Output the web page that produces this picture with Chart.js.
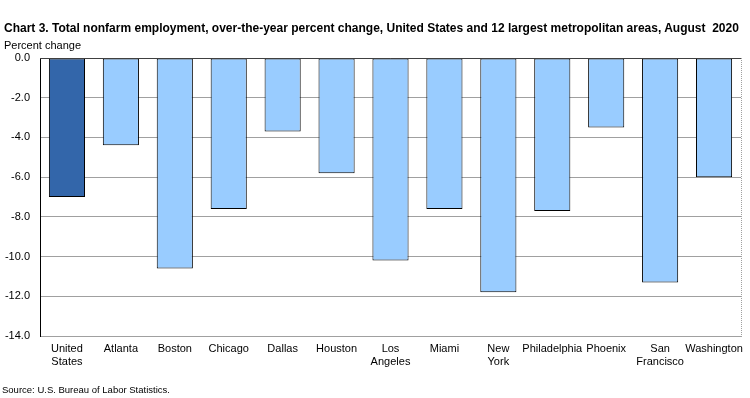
<!DOCTYPE html>
<html><head><meta charset="utf-8">
<script src="https://cdn.jsdelivr.net/npm/chart.js@4"></script>
<style>
html,body{margin:0;padding:0;background:#fff;}
#wrap{position:relative;width:750px;height:398px;font-family:"Liberation Sans",Arial,sans-serif;color:#000;}
#title{position:absolute;left:4px;top:21px;font-size:12px;font-weight:bold;white-space:nowrap;}
#ylab{position:absolute;left:4px;top:39px;font-size:11px;white-space:nowrap;}
#src{position:absolute;left:2px;top:384px;font-size:9.5px;white-space:nowrap;}
canvas{position:absolute;left:0;top:0;}
</style></head>
<body><div id="wrap">
<canvas id="c" width="750" height="398"></canvas>
<div id="title">Chart 3. Total nonfarm employment, over-the-year percent change, United States and 12 largest metropolitan areas, August&nbsp; 2020</div>
<div id="ylab">Percent change</div>
<div id="src">Source: U.S. Bureau of Labor Statistics.</div>
</div>
<script>
const categories = [["United","States"],"Atlanta","Boston","Chicago","Dallas","Houston",["Los","Angeles"],"Miami",["New","York"],"Philadelphia","Phoenix",["San","Francisco"],"Washington"];
const values = [-7.0,-4.4,-10.6,-7.6,-3.7,-5.8,-10.2,-7.6,-11.8,-7.7,-3.5,-11.3,-6.0];
const barColors = ["#3366aa","#99ccff","#99ccff","#99ccff","#99ccff","#99ccff","#99ccff","#99ccff","#99ccff","#99ccff","#99ccff","#99ccff","#99ccff"];
const yMin = -14, yMax = 0, yStep = 2;

const frame = {
  id:'frame',
  afterDraw(chart){
    const {ctx, chartArea:a} = chart;
    ctx.save();
    ctx.lineWidth = 1;
    ctx.strokeStyle = '#a0a0a0';
    ctx.setLineDash([1,1]);
    ctx.beginPath();
    ctx.moveTo(a.right+0.5, a.top); ctx.lineTo(a.right+0.5, a.bottom);
    ctx.stroke();
    ctx.setLineDash([]);
    ctx.strokeStyle = '#404040';
    ctx.beginPath();
    ctx.moveTo(a.left, a.top+0.5); ctx.lineTo(a.right, a.top+0.5);
    ctx.stroke();
    ctx.restore();
  }
};

new Chart(document.getElementById('c'), {
  type:'bar',
  data:{labels:categories, datasets:[{data:values, backgroundColor:barColors, borderColor:'#000', borderWidth:1, borderSkipped:false, categoryPercentage:1, barPercentage:0.67}]},
  options:{
    responsive:false, animation:false,
    layout:{padding:{top:58,right:9,left:0,bottom:0}},
    plugins:{legend:{display:false}, tooltip:{enabled:false}, title:{display:false}},
    scales:{
      x:{
        grid:{display:false, drawTicks:false},
        border:{display:true, color:'#a0a0a0', dash:[1,1]},
        ticks:{color:'#000', font:{family:'"Liberation Sans", Arial, sans-serif', size:11}, maxRotation:0, autoSkip:false, padding:6},
        afterFit(s){ s.height = 62; }
      },
      y:{
        min:yMin, max:yMax,
        ticks:{stepSize:yStep, color:'#000', font:{family:'"Liberation Sans", Arial, sans-serif', size:11}, padding:10, callback:v=>v.toFixed(1)},
        grid:{color:'#a0a0a0', drawTicks:false},
        border:{display:true, color:'#000'},
        afterFit(s){ s.width = 40; }
      }
    }
  },
  plugins:[frame]
});
</script>
</body></html>
